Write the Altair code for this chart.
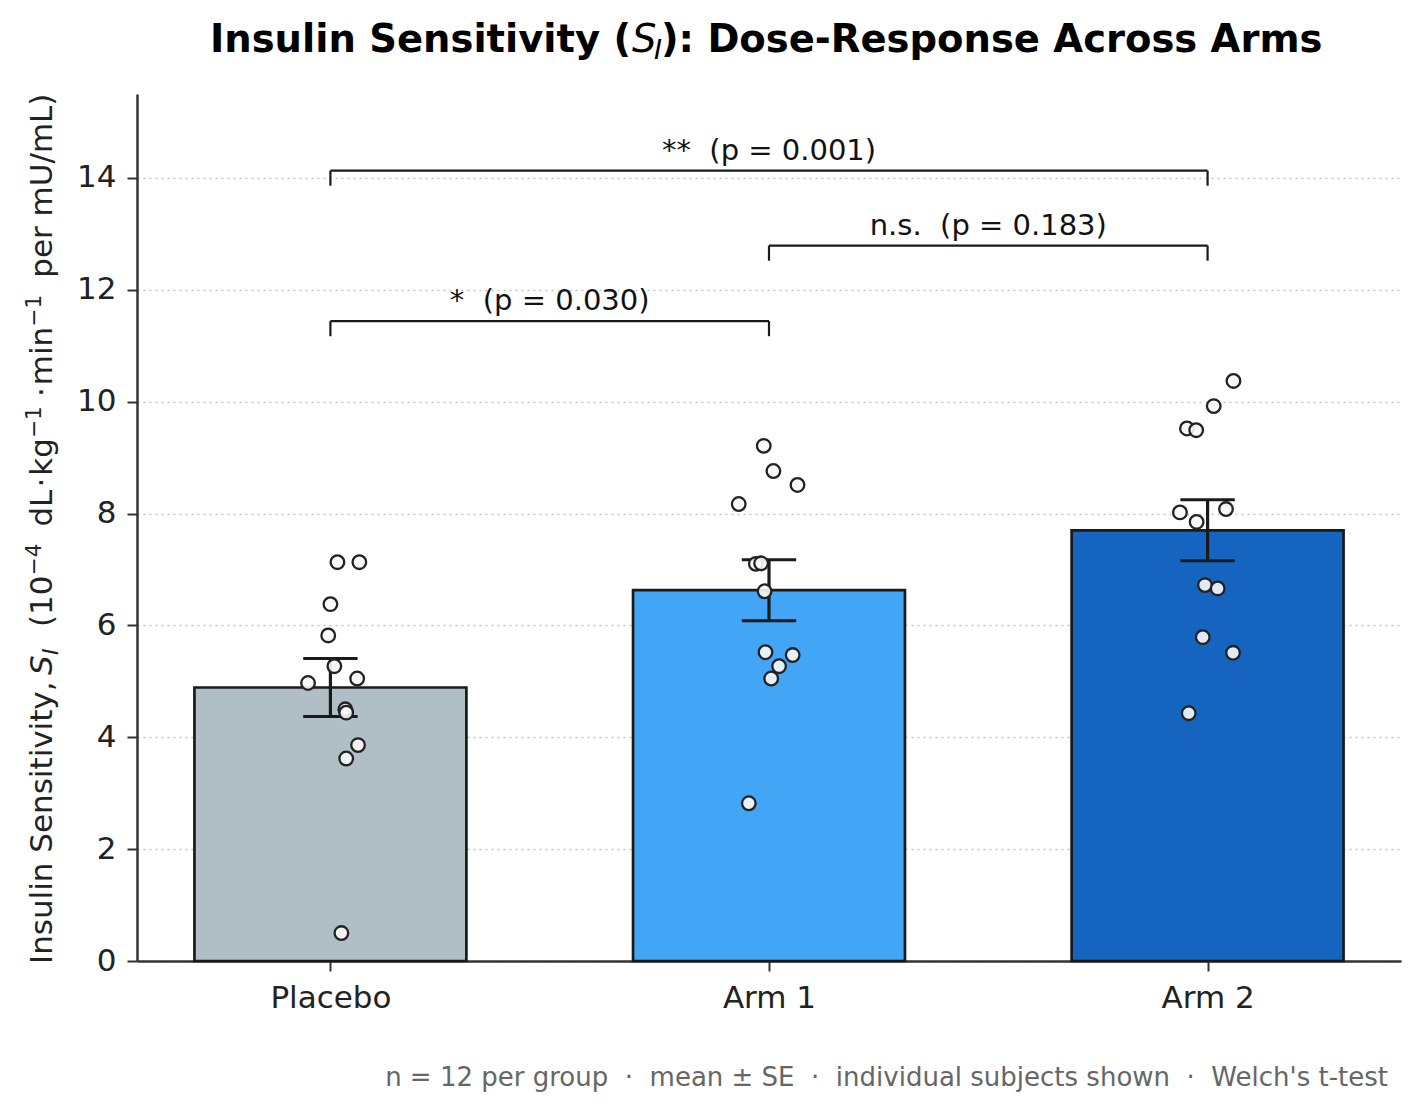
import altair as alt
import pandas as pd

FONT = "DejaVu Sans"
NB = "\u00a0"

# ---------------- data ----------------
groups = ["Placebo", "Arm 1", "Arm 2"]
bar_colors = ["#B0BEC5", "#42A5F5", "#1565C0"]
means = [4.89, 6.63, 7.70]
ses = [0.52, 0.545, 0.545]

placebo_vals = [7.13, 7.13, 6.38, 5.82, 5.27, 4.97, 5.05, 4.50, 4.44, 3.86, 3.62, 0.50]
placebo_jit = [0.016, 0.066, 0.000, -0.005, 0.009, -0.051, 0.061, 0.034, 0.036, 0.063, 0.036, 0.025]
arm1_vals = [9.21, 8.76, 8.51, 8.17, 7.10, 7.11, 6.61, 5.52, 5.47, 5.27, 5.05, 2.82]
arm1_jit = [-0.012, 0.010, 0.065, -0.069, -0.030, -0.018, -0.010, -0.008, 0.054, 0.023, 0.005, -0.046]
arm2_vals = [10.37, 9.92, 9.52, 9.49, 8.02, 8.08, 7.85, 6.72, 6.66, 5.79, 5.51, 4.43]
arm2_jit = [0.059, 0.014, -0.047, -0.026, -0.063, 0.042, -0.025, -0.006, 0.023, -0.011, 0.058, -0.043]

br_from = [0, 1, 0]
br_to = [1, 2, 2]
br_y = [11.44, 12.79, 14.13]
br_labels = ["*" + NB + " (p = 0.030)", "n.s." + NB + " (p = 0.183)", "**" + NB + " (p = 0.001)"]
br_drop = 0.27

y_ticks = [0, 2, 4, 6, 8, 10, 12, 14]
SEP = NB + " \u00b7 " + NB
footer = "n = 12 per group" + SEP + "mean \u00b1 SE" + SEP + "individual subjects shown" + SEP + "Welch's t-test"

# ---------------- tables ----------------
df_bar = pd.DataFrame({"group": groups, "idx": [0, 1, 2], "mean": means, "se": ses})

pts_rows = []
for gi, (vals, jits) in enumerate([(placebo_vals, placebo_jit), (arm1_vals, arm1_jit), (arm2_vals, arm2_jit)]):
    for v, j in zip(vals, jits):
        pts_rows.append({"group": groups[gi], "idx": gi, "jit": j, "val": v})
df_pts = pd.DataFrame(pts_rows)

df_br = pd.DataFrame({"a": br_from, "b": br_to, "y": br_y, "label": br_labels})

x_scale = alt.Scale(domain=[-0.441, 2.441], nice=False, zero=False)
y_scale = alt.Scale(domain=[0, 15.5], nice=False, zero=True)

label_expr = "[" + ",".join("'%s'" % g for g in groups) + "][datum.value]"

x_axis = alt.Axis(
    values=[0, 1, 2], labelExpr=label_expr, title=None, grid=False,
    domainColor="#333333", domainWidth=2.5, tickColor="#333333", tickWidth=2,
    tickSize=10, labelFont=FONT, labelFontSize=31, labelColor="#222222",
    labelPadding=12,
)
y_axis = alt.Axis(
    values=y_ticks, title=None, grid=True, gridDash=[2, 4], gridColor="#c4c4c4",
    gridWidth=1.5, domainColor="#333333", domainWidth=2.5, tickColor="#333333",
    tickWidth=2, tickSize=10, labelFont=FONT, labelFontSize=31,
    labelColor="#222222", labelPadding=11,
)


def X(field):
    return alt.X(field, scale=x_scale, axis=x_axis)


def Y(field):
    return alt.Y(field, scale=y_scale, axis=y_axis)


bars = alt.Chart(df_bar).transform_calculate(
    x0="datum.idx - 0.31", x1="datum.idx + 0.31"
).mark_bar(stroke="#1a1a1a", strokeWidth=2.7).encode(
    x=X("x0:Q"),
    x2="x1:Q",
    y=Y("mean:Q"),
    y2=alt.datum(0),
    color=alt.Color("group:N", scale=alt.Scale(domain=groups, range=bar_colors), legend=None),
)

err = alt.Chart(df_bar).transform_calculate(
    lo="datum.mean - datum.se", hi="datum.mean + datum.se",
    c0="datum.idx - 0.062", c1="datum.idx + 0.062",
)
err_v = err.mark_rule(color="#1a1a1a", strokeWidth=3.2).encode(
    x=X("idx:Q"), y=Y("lo:Q"), y2="hi:Q",
)
cap_hi = err.mark_rule(color="#1a1a1a", strokeWidth=3).encode(
    x=X("c0:Q"), x2="c1:Q", y=Y("hi:Q"),
)
cap_lo = err.mark_rule(color="#1a1a1a", strokeWidth=3).encode(
    x=X("c0:Q"), x2="c1:Q", y=Y("lo:Q"),
)

points = alt.Chart(df_pts).transform_calculate(
    px="datum.idx + datum.jit"
).mark_point(
    shape="circle", filled=True, fill="#f8f8f8", fillOpacity=0.9,
    stroke="#222222", strokeWidth=2.3, strokeOpacity=1, size=185, opacity=1,
).encode(
    x=X("px:Q"), y=Y("val:Q"),
)

br = alt.Chart(df_br).transform_calculate(
    ylow="datum.y - %f" % br_drop, mid="(datum.a + datum.b) / 2"
)
br_h = br.mark_rule(color="#1a1a1a", strokeWidth=2.2).encode(
    x=X("a:Q"), x2="b:Q", y=Y("y:Q"),
)
br_l = br.mark_rule(color="#1a1a1a", strokeWidth=2.2).encode(
    x=X("a:Q"), y=Y("ylow:Q"), y2="y:Q",
)
br_r = br.mark_rule(color="#1a1a1a", strokeWidth=2.2).encode(
    x=X("b:Q"), y=Y("ylow:Q"), y2="y:Q",
)
br_t = br.mark_text(font=FONT, fontSize=29, baseline="alphabetic", align="center",
                    dy=-11, color="#111111").encode(
    x=X("mid:Q"), y=Y("y:Q"), text="label:N",
)


def txt(s, x, y, size, weight="normal", style="normal", align="left", angle=0, color="#000000"):
    kw = dict(font=FONT, fontSize=size, fontWeight=weight, fontStyle=style,
              align=align, baseline="alphabetic", color=color)
    if angle:
        kw["angle"] = angle
    return alt.Chart(pd.DataFrame({"t": [s]})).mark_text(**kw).encode(
        x=alt.value(x), y=alt.value(y), text="t:N"
    )


# title pieces (pixel positions relative to the plot area)
t1 = txt("Insulin Sensitivity (", 494, -42, 38.5, weight="bold", align="right")
t2 = txt("S", 495, -42, 38.5, style="italic")
t3 = txt("I", 517, -35, 27, style="italic")
t4 = txt("): Dose-Response Across Arms", 524, -42, 38.5, weight="bold")

# y-axis title pieces (rotated, positions along the axis relative to the plot area)
YC = "#222222"
BX = -85      # baseline
SX = -96      # superscript baseline
OFF = 94      # top offset of plot area
ytitle = [
    ("Insulin Sensitivity,", BX, 964, 31, "normal"),
    ("S", BX, 675, 31, "italic"),
    ("I", -79, 655, 22, "italic"),
    ("(10", BX, 627, 31, "normal"),
    ("\u22124", SX, 575.5, 21.7, "normal"),
    ("dL", BX, 526.6, 31, "normal"),
    ("\u00b7", BX, 487.6, 31, "normal"),
    ("kg", BX, 475.7, 31, "normal"),
    ("\u22121", SX, 438.1, 21.7, "normal"),
    ("\u00b7", BX, 397.1, 31, "normal"),
    ("min", BX, 385.2, 31, "normal"),
    ("\u22121", SX, 326.7, 21.7, "normal"),
    ("per mU/mL)", BX, 277.8, 31, "normal"),
]
ylayers = [txt(s, x, y - OFF, size, style=st, angle=270, color=YC) for s, x, y, size, st in ytitle]

foot = txt(footer, 1251, 992, 26, align="right", color="#666666")

chart = alt.layer(
    bars, err_v, cap_hi, cap_lo, points, br_h, br_l, br_r, br_t,
    t1, t2, t3, t4, *ylayers, foot,
).properties(
    width=1264, height=867,
    autosize=alt.AutoSizeParams(type="none"),
    padding={"left": 137, "top": 94, "right": 22, "bottom": 152},
    background="white",
).configure_view(stroke=None)

chart.save("out.html", embed_options={"renderer": "svg", "actions": False})
